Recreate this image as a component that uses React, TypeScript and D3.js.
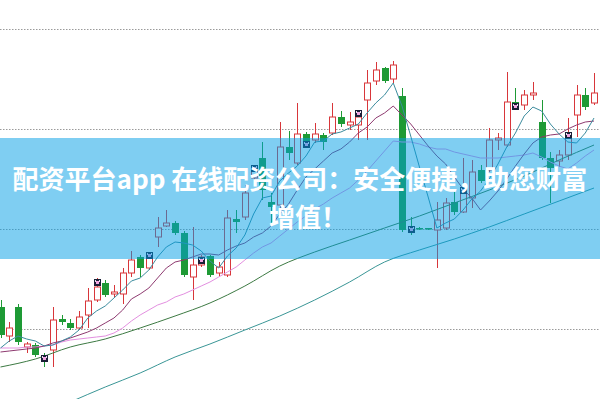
import React from "react";
import * as d3 from "d3";

// ---- data ----
const opens = [10.22,9.93,10.22,9.82,9.84,9.74,9.79,10.10,10.06,10.01,10.14,10.29,10.46,10.35,10.35,10.56,10.72,10.61,10.92,11.03,11.06,10.96,10.52,10.64,10.73,10.56,10.54,11.10,11.12,11.51,11.71,11.27,11.24,11.82,11.66,11.95,11.89,11.94,11.96,12.12,12.04,12.04,12.29,12.48,12.61,12.50,12.33,11.02,11.01,11.01,10.99,11.01,11.27,11.17,11.31,11.59,11.59,11.89,11.84,12.27,12.24,12.34,12.07,11.71,11.68,11.74,12.14,12.34,12.26];
const closes = [9.94,10.01,9.87,9.85,9.74,9.67,10.09,10.07,10.01,10.12,10.28,10.42,10.34,10.37,10.56,10.69,10.61,10.72,11.01,11.06,10.96,10.54,10.64,10.72,10.54,10.62,11.11,11.07,11.36,11.61,11.39,11.22,11.82,11.76,11.95,11.88,11.95,11.87,12.12,12.05,12.07,12.12,12.46,12.59,12.48,12.64,10.99,10.97,11.00,11.00,11.09,11.26,11.17,11.41,11.57,11.48,11.89,11.91,12.27,12.24,12.34,12.36,11.71,11.61,11.74,11.91,12.34,12.22,12.36];
const highs = [10.29,10.07,10.25,9.87,9.86,9.76,10.22,10.14,10.10,10.18,10.41,10.51,10.49,10.44,10.61,10.78,10.74,10.77,11.12,11.19,11.08,10.98,11.02,10.74,10.74,10.67,11.19,11.19,11.44,11.64,11.87,11.36,12.07,11.98,12.26,11.97,12.06,11.96,12.26,12.18,12.17,12.19,12.59,12.67,12.62,12.68,12.41,11.12,11.02,11.01,11.27,11.31,11.37,11.71,11.69,11.64,12.01,11.96,12.57,12.41,12.39,12.47,12.29,11.77,11.79,12.11,12.44,12.41,12.56];
const lows = [9.91,9.87,9.84,9.76,9.72,9.62,9.62,10.04,9.99,9.99,10.01,10.27,10.32,10.32,10.25,10.52,10.52,10.59,10.82,11.02,10.94,10.52,10.29,10.62,10.52,10.52,10.52,10.96,11.09,11.44,11.29,11.06,11.19,11.69,11.64,11.83,11.86,11.79,11.94,12.02,11.99,11.89,11.89,12.44,12.46,12.46,10.97,10.94,10.99,10.99,10.61,10.99,11.14,11.16,11.21,11.46,11.57,11.79,11.82,12.19,12.19,12.29,11.69,11.26,11.62,11.69,11.92,12.19,12.24];

const ma5 = [9.81,9.88,9.93,9.90,9.88,9.83,9.84,9.88,9.92,9.99,10.11,10.18,10.23,10.31,10.39,10.48,10.51,10.59,10.72,10.82,10.87,10.86,10.84,10.78,10.68,10.61,10.73,10.81,10.94,11.15,11.31,11.33,11.48,11.56,11.63,11.73,11.87,11.88,11.95,11.97,12.01,12.05,12.16,12.26,12.34,12.46,12.23,11.93,11.62,11.32,11.01,11.06,11.10,11.19,11.30,11.38,11.50,11.65,11.82,11.96,12.13,12.22,12.18,12.05,11.95,11.87,11.86,11.96,12.11];
const ma10 = [9.77,9.78,9.79,9.80,9.81,9.83,9.86,9.88,9.91,9.94,9.97,10.01,10.06,10.11,10.19,10.30,10.35,10.41,10.51,10.61,10.67,10.69,10.72,10.75,10.75,10.74,10.79,10.83,10.86,10.92,10.96,11.03,11.15,11.25,11.39,11.52,11.60,11.68,11.76,11.80,11.87,11.96,12.02,12.11,12.16,12.23,12.14,12.05,11.94,11.83,11.73,11.65,11.52,11.40,11.31,11.19,11.28,11.38,11.50,11.63,11.75,11.86,11.92,11.94,11.95,12.00,12.04,12.07,12.08];
const ma20 = [9.81,9.81,9.81,9.82,9.82,9.83,9.84,9.87,9.89,9.90,9.91,9.92,9.93,9.96,10.01,10.08,10.14,10.19,10.24,10.27,10.32,10.35,10.39,10.43,10.47,10.52,10.57,10.62,10.69,10.76,10.82,10.86,10.93,11.00,11.07,11.13,11.20,11.25,11.31,11.36,11.41,11.49,11.58,11.68,11.78,11.88,11.87,11.87,11.85,11.82,11.80,11.80,11.77,11.75,11.73,11.71,11.71,11.71,11.72,11.73,11.74,11.76,11.72,11.67,11.63,11.60,11.66,11.73,11.79];
const ma60Idx = [0,4,8,12,16,20,24,28,32,36,40,44,48,52,56,60,64,68];
const ma60 = [9.62,9.70,9.82,9.90,10.01,10.13,10.26,10.43,10.63,10.77,10.89,11.01,11.13,11.26,11.39,11.53,11.69,11.84];
const ma120Idx = [8,12,16,20,24,28,32,36,40,44,48,52,56,60,64,68];
const ma120 = [9.27,9.42,9.56,9.72,9.85,9.99,10.13,10.29,10.47,10.67,10.79,10.90,11.02,11.15,11.28,11.41];

const markerIdx = [5,11,17,23,29,35,41,47,53,59,65];
const markerTop = [9.74,10.50,10.77,10.72,11.64,11.88,12.19,11.03,11.42,12.26,11.97];

const gridLevels = [10, 11, 12, 13];
const titleLines = ["配资平台app 在线配资公司：安全便捷，助您财富", "增值！"];

// ---- layout ----
const W = 600;
const H = 399;
const RED = "#d8363a";
const GREEN = "#1e9a35";

export default function App() {
  const x = d3.scaleLinear().domain([0, 68]).range([0.5, 594]);
  const y = d3.scaleLinear().domain([9.3, 13.29]).range([H, 0]);

  const lineGen = (vals: number[], idx?: number[], curve = d3.curveLinear) =>
    d3
      .line<number>()
      .x((_, k) => x(idx ? idx[k] : k))
      .y((v) => y(v))
      .curve(curve)(vals) || "";

  const mas = [
    { d: lineGen(ma120, ma120Idx, d3.curveMonotoneX), c: "#3a9696" },
    { d: lineGen(ma60, ma60Idx, d3.curveMonotoneX), c: "#3d7a43" },
    { d: lineGen(ma20), c: "#e38fe0" },
    { d: lineGen(ma10), c: "#8e3a70" },
    { d: lineGen(ma5), c: "#3c8c9e" },
  ];

  return (
    <svg
      width={W}
      height={H}
      style={{ position: "absolute", left: 0, top: 0, background: "#fff" }}
    >
      <rect x={0} y={0} width={W} height={H} fill="#fff" />
      {gridLevels.map((g) => (
        <line
          key={g}
          x1={0}
          x2={W}
          y1={Math.round(y(g)) + 0.5}
          y2={Math.round(y(g)) + 0.5}
          stroke="#9a9a9a"
          strokeDasharray="1.5,1.5"
        />
      ))}
      {opens.map((o, i) => {
        const c = closes[i];
        const r = Math.round(x(i));
        const cx = r + 0.5;
        const up = c >= o;
        const top = y(Math.max(o, c));
        const bot = y(Math.min(o, c));
        const hY = y(highs[i]);
        const lY = y(lows[i]);
        if (up) {
          return (
            <g key={i} stroke={RED} strokeWidth={1}>
              <line x1={cx} x2={cx} y1={hY} y2={top} />
              <line x1={cx} x2={cx} y1={bot} y2={lY} />
              <rect x={r - 2.5} y={top} width={6} height={Math.max(1, bot - top)} fill="#fff" />
            </g>
          );
        }
        return (
          <g key={i}>
            <line x1={cx} x2={cx} y1={hY} y2={lY} stroke={GREEN} strokeWidth={1} />
            <rect x={r - 3} y={top} width={7} height={Math.max(1.5, bot - top)} fill={GREEN} />
          </g>
        );
      })}
      {mas.map((m, k) => (
        <path key={k} d={m.d} fill="none" stroke={m.c} strokeWidth={1} />
      ))}
      {markerIdx.map((i, k) => {
        const r = Math.round(x(i));
        const t = Math.round(y(markerTop[k]));
        return (
          <g key={i}>
            <rect x={r - 3} y={t} width={7} height={7} fill="#1a1f36" />
            <rect x={r - 1} y={t + 2} width={3} height={3} fill="#f2a6e2" />
            <rect x={r - 2} y={t + 1} width={1} height={2} fill="#e9e0f0" />
            <rect x={r + 2} y={t + 1} width={1} height={2} fill="#e9e0f0" />
          </g>
        );
      })}
      <rect x={0} y={138} width={W} height={121} fill="rgb(0,157,229)" fillOpacity={0.5} />
      <text
        x={300}
        y={189}
        textAnchor="middle"
        fill="#fff"
        fontSize={26}
        fontWeight={700}
        fontFamily="'Noto Sans CJK SC', 'Noto Sans', sans-serif"
      >
        {titleLines[0]}
      </text>
      <text
        x={269}
        y={227}
        textAnchor="start"
        fill="#fff"
        fontSize={26}
        fontWeight={700}
        fontFamily="'Noto Sans CJK SC', 'Noto Sans', sans-serif"
      >
        {titleLines[1]}
      </text>
    </svg>
  );
}
